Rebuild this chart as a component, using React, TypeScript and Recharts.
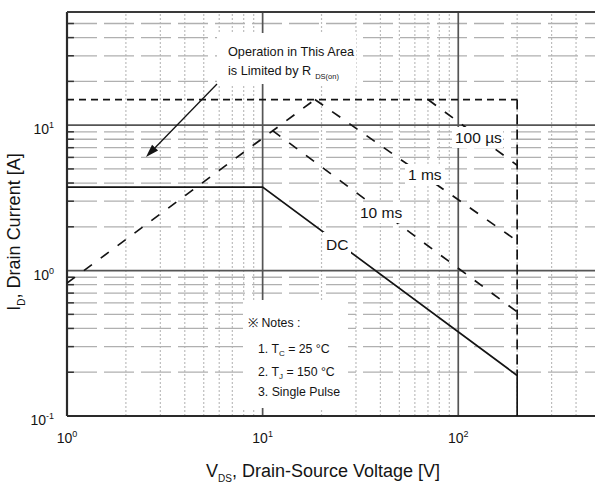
import React from 'react';
import { LineChart, Line, XAxis, YAxis, ReferenceLine } from 'recharts';

const FONT = '"Liberation Sans", Arial, Helvetica, sans-serif';
const INK = '#141414';

// Axis ranges (log-log)
const vdsDomain = [1, 500];
const idDomain = [0.1, 60];
const vdsTicks = [1, 10, 100];
const idTicks = [0.1, 1, 10];

// Grid values
const vdsMajorGrid = [10, 100];
const vdsMinorGrid = [2, 3, 4, 5, 6, 7, 8, 9, 20, 30, 40, 50, 60, 70, 80, 90, 200, 300, 400];
const idMajorGrid = [1, 10];
const idMinorGrid = [0.2, 0.3, 0.4, 0.5, 0.6, 0.7, 0.8, 0.9, 2, 3, 4, 5, 6, 7, 8, 9, 20, 30, 40, 50];

// Safe operating area boundaries (V_DS in V, I_D in A)
const rdsOnV = [1, 18.5];
const rdsOnI = [0.82, 15];
const currentLimitV = [1, 200];
const currentLimitI = [15, 15];
const voltageLimitV = [200, 200];
const voltageLimitI = [15, 0.19];
const pulse100usV = [70, 200];
const pulse100usI = [15, 5.3];
const pulse1msV = [18.5, 200];
const pulse1msI = [15, 1.6];
const pulse10msV = [11.2, 200];
const pulse10msI = [9.2, 0.52];
const dcV = [1, 10, 200, 200];
const dcI = [3.75, 3.75, 0.19, 0.1];

const toPoints = (v: number[], i: number[]) => v.map((x, k) => ({ v: x, i: i[k] }));

const XTick = (props: any) => {
  const { x, y, payload } = props;
  const exp = Math.round(Math.log10(payload.value));
  return (
    <text x={x} y={y + 27} textAnchor="middle" fontFamily={FONT} fontSize={14} fill={INK}>
      10<tspan dy={-6} fontSize={9}>{exp}</tspan>
    </text>
  );
};

const YTick = (props: any) => {
  const { x, y, payload } = props;
  const exp = Math.round(Math.log10(payload.value));
  return (
    <text x={x - 13} y={y + 9} textAnchor="end" fontFamily={FONT} fontSize={14} fill={INK}>
      10<tspan dy={-6} fontSize={9}>{exp}</tspan>
    </text>
  );
};

const CurveLabel = ({ x, y, w, h, tx, ty, text }: any) => (
  <g>
    <rect x={x} y={y} width={w} height={h} fill="#fff" />
    <text x={tx} y={ty} fontSize={15.5} fontFamily={FONT} fill={INK}>{text}</text>
  </g>
);

// Text, boxes and arrow laid over the plot
const Annotations = () => {
  const ax1 = 217, ay1 = 84, ax2 = 146, ay2 = 157;
  const len = Math.hypot(ax2 - ax1, ay2 - ay1);
  const ux = (ax2 - ax1) / len, uy = (ay2 - ay1) / len;
  const bx = ax2 - 13 * ux, by = ay2 - 13 * uy;
  const nx = -uy, ny = ux;
  const head = `${ax2},${ay2} ${bx + 4.2 * nx},${by + 4.2 * ny} ${bx - 4.2 * nx},${by - 4.2 * ny}`;
  return (
    <svg width={595} height={485} style={{ position: 'absolute', left: 0, top: 0, pointerEvents: 'none' }}>
      <g fontFamily={FONT} fill={INK}>
        <rect x={217} y={33} width={139} height={51} fill="#fff" />
        <text x={228} y={56} fontSize={12.7}>Operation in This Area</text>
        <text x={228} y={75} fontSize={12.7}>
          is Limited by R<tspan dx={4} dy={4} fontSize={7.5}>DS(on)</tspan>
        </text>
        <line x1={ax1} y1={ay1} x2={bx} y2={by} stroke={INK} strokeWidth={1.3} />
        <polygon points={head} fill={INK} />

        <CurveLabel x={452} y={127} w={51} h={21} tx={455} ty={143} text="100 µs" />
        <CurveLabel x={405} y={164} w={40} h={21} tx={408} ty={180} text="1 ms" />
        <CurveLabel x={357} y={202} w={49} h={21} tx={360} ty={218} text="10 ms" />
        <CurveLabel x={323} y={232} w={28} h={24} tx={326} ty={250} text="DC" />

        <rect x={243} y={300} width={105} height={108} fill="#fff" />
        <g fontSize={12.3}>
          <text x={248} y={327}>※ Notes :</text>
          <text x={258} y={353}>1. T<tspan dy={3} fontSize={8}>C</tspan><tspan dy={-3}> = 25 °C</tspan></text>
          <text x={258} y={376}>2. T<tspan dy={3} fontSize={8}>J</tspan><tspan dy={-3}> = 150 °C</tspan></text>
          <text x={258} y={396}>3. Single Pulse</text>
        </g>

        <text x={323} y={477} textAnchor="middle" fontSize={18}>
          V<tspan dy={5} fontSize={10}>DS</tspan><tspan dy={-5}>, Drain-Source Voltage [V]</tspan>
        </text>
        <text transform="rotate(-90)" x={-232} y={20} textAnchor="middle" fontSize={18}>
          I<tspan dy={5} fontSize={10}>D</tspan><tspan dy={-5}>, Drain Current [A]</tspan>
        </text>
      </g>
    </svg>
  );
};

const diag = '10 11';

export default function App() {
  return (
    <div style={{ position: 'absolute', left: 0, top: 0, width: 595, height: 485, background: '#fff' }}>
      <LineChart width={595} height={485} margin={{ top: 12, right: 0, bottom: 0, left: 0 }}>
        <XAxis
          type="number"
          dataKey="v"
          scale="log"
          domain={vdsDomain}
          ticks={vdsTicks}
          allowDataOverflow
          axisLine={false}
          tickLine={false}
          tickSize={0}
          tickMargin={0}
          height={69}
          tick={<XTick />}
          interval={0}
        />
        <YAxis
          type="number"
          dataKey="i"
          scale="log"
          domain={idDomain}
          ticks={idTicks}
          allowDataOverflow
          axisLine={false}
          tickLine={false}
          tickSize={0}
          tickMargin={0}
          width={67}
          tick={<YTick />}
          interval={0}
        />

        {vdsMinorGrid.map((v) => (
          <ReferenceLine key={`vx${v}`} x={v} stroke="#bdbdbd" strokeWidth={1.2} strokeDasharray="2 2" />
        ))}
        {idMinorGrid.map((v) => (
          <ReferenceLine key={`hy${v}`} y={v} stroke="#b0b0b0" strokeWidth={1.3} strokeDasharray="30 7" />
        ))}
        {idMinorGrid.map((v) => (
          <ReferenceLine key={`tk${v}`} segment={[{ x: 1, y: v }, { x: 1.085, y: v }]} stroke="#333" strokeWidth={1.5} />
        ))}
        {vdsMajorGrid.map((v) => (
          <ReferenceLine key={`VX${v}`} x={v} stroke="#555" strokeWidth={1.7} />
        ))}
        {idMajorGrid.map((v) => (
          <ReferenceLine key={`HY${v}`} y={v} stroke="#555" strokeWidth={1.7} />
        ))}
        <ReferenceLine x={1} stroke="#2a2a2a" strokeWidth={2.2} />
        <ReferenceLine y={0.1} stroke="#2a2a2a" strokeWidth={2.2} />
        <ReferenceLine y={60} stroke="#3a3a3a" strokeWidth={2} />

        <Line data={toPoints(currentLimitV, currentLimitI)} dataKey="i" stroke={INK} strokeWidth={1.7} strokeDasharray="7 5" dot={false} activeDot={false} isAnimationActive={false} />
        <Line data={toPoints(voltageLimitV, voltageLimitI)} dataKey="i" stroke={INK} strokeWidth={1.7} strokeDasharray="10 5" dot={false} activeDot={false} isAnimationActive={false} />
        <Line data={toPoints(rdsOnV, rdsOnI)} dataKey="i" stroke={INK} strokeWidth={1.7} strokeDasharray={diag} dot={false} activeDot={false} isAnimationActive={false} />
        <Line data={toPoints(pulse100usV, pulse100usI)} dataKey="i" stroke={INK} strokeWidth={1.7} strokeDasharray={diag} dot={false} activeDot={false} isAnimationActive={false} />
        <Line data={toPoints(pulse1msV, pulse1msI)} dataKey="i" stroke={INK} strokeWidth={1.7} strokeDasharray={diag} dot={false} activeDot={false} isAnimationActive={false} />
        <Line data={toPoints(pulse10msV, pulse10msI)} dataKey="i" stroke={INK} strokeWidth={1.7} strokeDasharray={diag} dot={false} activeDot={false} isAnimationActive={false} />
        <Line data={toPoints(dcV, dcI)} dataKey="i" stroke={INK} strokeWidth={1.7} dot={false} activeDot={false} isAnimationActive={false} />
      </LineChart>
      <Annotations />
    </div>
  );
}
